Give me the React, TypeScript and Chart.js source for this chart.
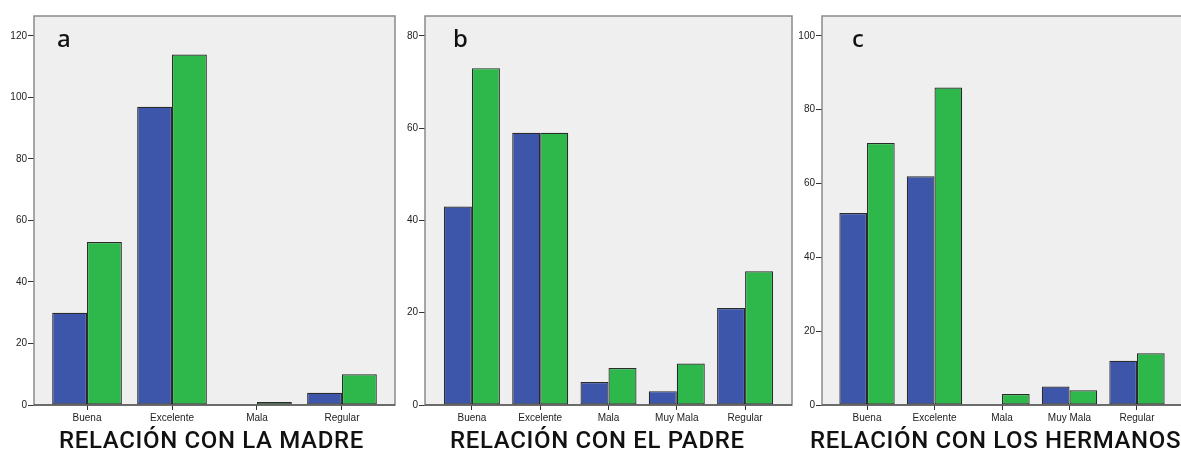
import React, { useEffect, useRef } from "react";
import { Chart, registerables } from "chart.js";
Chart.register(...registerables);

// ---- data ----
const madreCategories = ["Buena", "Excelente", "Mala", "Regular"];
const madreBlue = [30, 97, 0, 4];
const madreGreen = [53, 114, 1, 10];
const madreYMax = 126.5;

const padreCategories = ["Buena", "Excelente", "Mala", "Muy Mala", "Regular"];
const padreBlue = [43, 59, 5, 3, 21];
const padreGreen = [73, 59, 8, 9, 29];
const padreYMax = 84.3;

const hermanosCategories = ["Buena", "Excelente", "Mala", "Muy Mala", "Regular"];
const hermanosBlue = [52, 62, 0, 5, 12];
const hermanosGreen = [71, 86, 3, 4, 14];
const hermanosYMax = 105.4;

const yStep = 20;
const panelLetters = ["a", "b", "c"];
const panelTitles = ["RELACIÓN CON LA MADRE", "RELACIÓN CON EL PADRE", "RELACIÓN CON LOS HERMANOS"];

const BLUE = "#3d56a9";
const GREEN = "#2eb84b";

type PanelProps = {
  categories: string[];
  blue: number[];
  green: number[];
  yMax: number;
  letter: string;
  left: number;
  width: number;
  yWidth: number;
  padRight: number;
  catPad: number;
  letterDx: number;
};

function Panel(p: PanelProps) {
  const ref = useRef<HTMLCanvasElement | null>(null);
  useEffect(() => {
    if (!ref.current) return;
    const framePlugin = {
      id: "frame",
      beforeDraw(chart: any) {
        const { ctx, chartArea } = chart;
        const { left, top, right, bottom } = chartArea;
        ctx.save();
        ctx.fillStyle = "#efefef";
        ctx.fillRect(left, top, right - left, bottom - top);
        ctx.restore();
      },
      afterDraw(chart: any) {
        const { ctx, chartArea } = chart;
        const { left, top, right, bottom } = chartArea;
        ctx.save();
        ctx.strokeStyle = "#8a8a8a";
        ctx.lineWidth = 1.5;
        ctx.strokeRect(left, top, right - left, bottom - top);
        ctx.strokeStyle = "#333";
        ctx.lineWidth = 1.2;
        ctx.beginPath();
        ctx.moveTo(left, bottom);
        ctx.lineTo(right, bottom);
        ctx.stroke();
        ctx.fillStyle = "#111";
        ctx.font = "500 24px 'Noto Sans'";
        ctx.textBaseline = "alphabetic";
        ctx.fillText(p.letter, left + p.letterDx, 47);
        ctx.restore();
      },
    };
    const n = p.categories.length;
    const bar = {
      borderColor: "#2a2a2a",
      borderWidth: 1.2,
      borderSkipped: false,
      categoryPercentage: 0.82,
      barPercentage: 1,
    };
    const chart = new Chart(ref.current, {
      type: "bar",
      data: {
        labels: p.categories,
        datasets: [
          { data: p.blue, backgroundColor: BLUE, ...bar },
          { data: p.green, backgroundColor: GREEN, ...bar },
        ],
      },
      options: {
        responsive: false,
        animation: false,
        devicePixelRatio: 1,
        layout: { padding: { top: 16, right: p.padRight, left: 0, bottom: 0 } },
        plugins: { legend: { display: false }, tooltip: { enabled: false }, title: { display: false } },
        scales: {
          x: {
            type: "category",
            offset: true,
            afterBuildTicks: (s: any) => {
              s._startValue = -p.catPad;
              s._valueRange = n - 1 + 2 * p.catPad;
            },
            afterFit: (s: any) => {
              s.height = 45;
            },
            grid: { offset: false, drawOnChartArea: false, drawTicks: true, tickLength: 5, color: "#333" },
            border: { display: false },
            ticks: {
              color: "#222",
              padding: 2,
              font: { family: "'Liberation Sans', Arial, sans-serif", size: 10 },
              maxRotation: 0,
              autoSkip: false,
            },
          },
          y: {
            min: 0,
            max: p.yMax,
            afterFit: (s: any) => {
              s.width = p.yWidth;
            },
            grid: { drawOnChartArea: false, drawTicks: true, tickLength: 6, color: "#333" },
            border: { display: false },
            ticks: {
              stepSize: yStep,
              includeBounds: false,
              color: "#222",
              padding: 1,
              font: { family: "'Liberation Sans', Arial, sans-serif", size: 10 },
            },
          },
        },
      },
      plugins: [framePlugin],
    } as any);
    return () => chart.destroy();
  }, []);
  return (
    <canvas
      ref={ref}
      width={p.width}
      height={450}
      style={{ position: "absolute", left: p.left, top: 0, width: p.width, height: 450 }}
    />
  );
}

const titleStyle = (left: number): React.CSSProperties => ({
  position: "absolute",
  left,
  top: 428,
  fontFamily: "Roboto, 'Noto Sans', sans-serif",
  fontSize: 24,
  fontWeight: 500,
  lineHeight: "24px",
  color: "#111",
  whiteSpace: "nowrap",
  letterSpacing: "0.65px",
});

export default function App() {
  return (
    <div
      style={{
        position: "absolute",
        left: 0,
        top: 0,
        width: 1181,
        height: 450,
        overflow: "hidden",
        background: "#fff",
      }}
    >
      <Panel
        categories={madreCategories}
        blue={madreBlue}
        green={madreGreen}
        yMax={madreYMax}
        letter={panelLetters[0]}
        left={0}
        width={400}
        yWidth={34}
        padRight={5}
        catPad={0.624}
        letterDx={23}
      />
      <Panel
        categories={padreCategories}
        blue={padreBlue}
        green={padreGreen}
        yMax={padreYMax}
        letter={panelLetters[1]}
        left={400}
        width={395}
        yWidth={25}
        padRight={3}
        catPad={0.687}
        letterDx={28}
      />
      <Panel
        categories={hermanosCategories}
        blue={hermanosBlue}
        green={hermanosGreen}
        yMax={hermanosYMax}
        letter={panelLetters[2]}
        left={795}
        width={400}
        yWidth={27}
        padRight={13}
        catPad={0.667}
        letterDx={30}
      />
      <div style={titleStyle(59)}>{panelTitles[0]}</div>
      <div style={titleStyle(450)}>{panelTitles[1]}</div>
      <div style={titleStyle(810)}>{panelTitles[2]}</div>
    </div>
  );
}
